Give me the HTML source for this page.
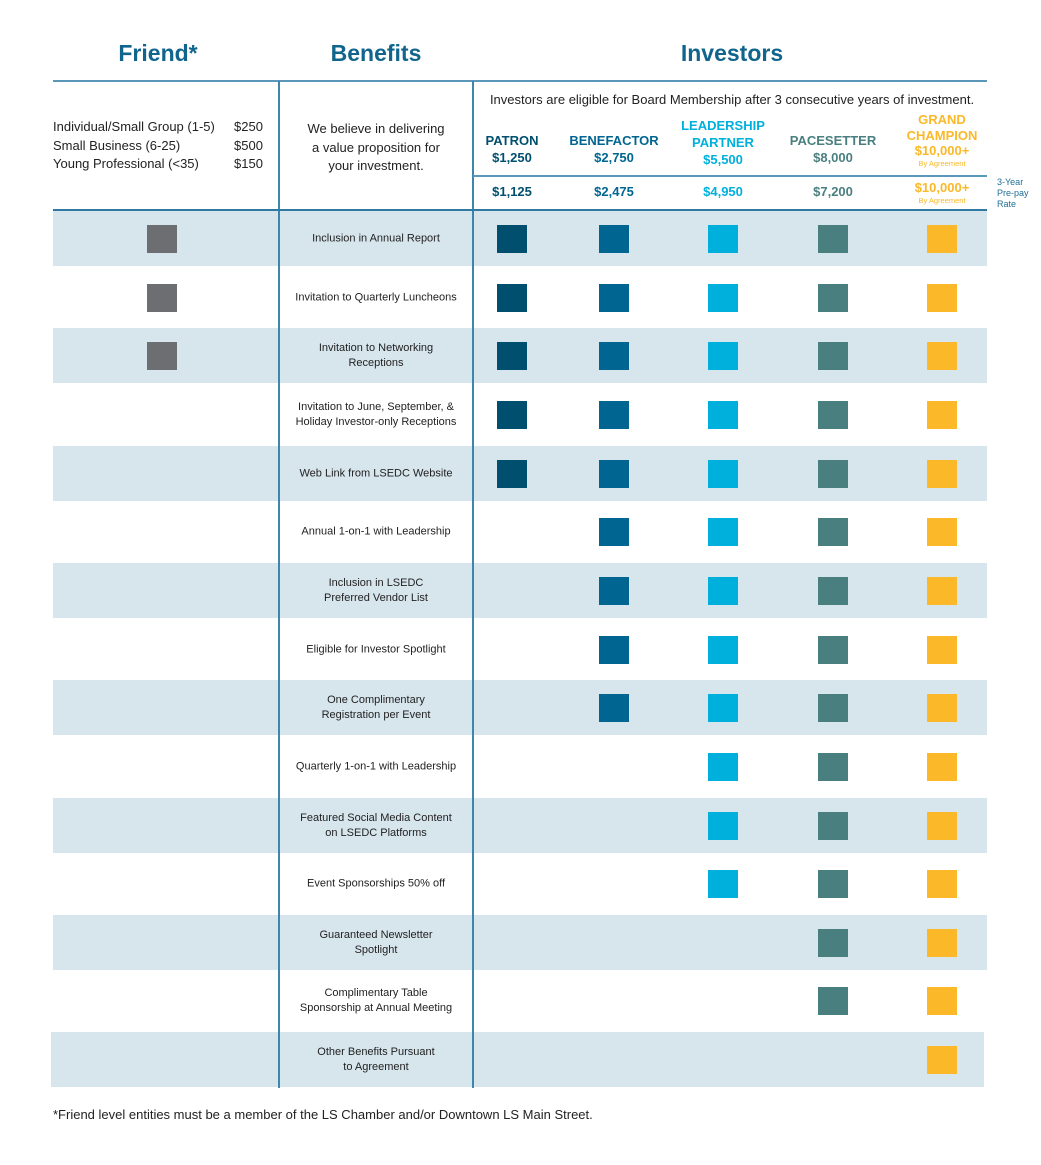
<!DOCTYPE html>
<html><head><meta charset="utf-8">
<style>
html,body{margin:0;padding:0;background:#fff;}
body{width:1041px;height:1165px;position:relative;overflow:hidden;font-family:"Liberation Sans",Arial,sans-serif;color:#222;}
.a{position:absolute;}
.t{position:absolute;white-space:nowrap;}
.c{transform:translateX(-50%);text-align:center;}
.h{font-weight:bold;font-size:23px;color:#11658d;}
.tn{font-weight:bold;font-size:13px;line-height:17px;}
.sm{font-size:7.5px;font-weight:normal;display:block;line-height:10px;}
.bt{font-size:11px;line-height:15px;text-align:center;transform:translate(-50%,-50%);white-space:nowrap;}
</style></head><body>
<div class="t c h" style="left:158px;top:40px;">Friend*</div>
<div class="t c h" style="left:376px;top:40px;">Benefits</div>
<div class="t c h" style="left:732px;top:40px;">Investors</div>
<div class="a" style="left:53px;top:80px;width:934px;height:2px;background:#5a97b8;"></div>
<div id="rows"></div>
<div class="a" style="left:278px;top:81px;width:1.5px;height:1007px;background:#3f86ad;"></div>
<div class="a" style="left:472px;top:81px;width:1.5px;height:1007px;background:#3f86ad;"></div>
<div class="a" style="left:473px;top:175px;width:514px;height:1.5px;background:#5a97b8;"></div>
<div class="a" style="left:53px;top:209px;width:934px;height:2px;background:#2f79a3;"></div>
<div class="t" style="left:53px;top:118px;font-size:13px;line-height:18.5px;">Individual/Small Group (1-5)<br>Small Business (6-25)<br>Young Professional (&lt;35)</div>
<div class="t" style="left:234px;top:118px;font-size:13px;line-height:18.5px;">$250<br>$500<br>$150</div>
<div class="t c" style="left:376px;top:120px;font-size:13px;line-height:18.5px;">We believe in delivering<br>a value proposition for<br>your investment.</div>
<div class="t c" style="left:732px;top:92px;font-size:13px;">Investors are eligible for Board Membership after 3 consecutive years of investment.</div>
<div class="t" style="left:997px;top:177px;font-size:9px;line-height:11px;color:#1f6f96;">3-Year<br>Pre-pay<br>Rate</div>
<div class="t" style="left:53px;top:1107px;font-size:13px;">*Friend level entities must be a member of the LS Chamber and/or Downtown LS Main Street.</div>
<script>
const benefits=["Inclusion in Annual Report","Invitation to Quarterly Luncheons","Invitation to Networking<br>Receptions","Invitation to June, September, &amp;<br>Holiday Investor-only Receptions","Web Link from LSEDC Website","Annual 1-on-1 with Leadership","Inclusion in LSEDC<br>Preferred Vendor List","Eligible for Investor Spotlight","One Complimentary<br>Registration per Event","Quarterly 1-on-1 with Leadership","Featured Social Media Content<br>on LSEDC Platforms","Event Sponsorships 50% off","Guaranteed Newsletter<br>Spotlight","Complimentary Table<br>Sponsorship at Annual Meeting","Other Benefits Pursuant<br>to Agreement"];
const friendIncluded=[1,1,1,0,0,0,0,0,0,0,0,0,0,0,0];
const minTier=[0,0,0,0,0,1,1,1,1,2,2,2,3,3,4];
const tierNames=["PATRON","BENEFACTOR","LEADERSHIP<br>PARTNER","PACESETTER","GRAND<br>CHAMPION"];
const tierPrice=["$1,250","$2,750","$5,500","$8,000","$10,000+"];
const tierPrepay=["$1,125","$2,475","$4,950","$7,200","$10,000+"];
const tierColors=["#004f6e","#006591","#00b0dc","#4a7f80","#fbb829"];
const tierX=[512,614,723,833,942];
const root=document.getElementById('rows');
const pitch=58.65, y0=239;
benefits.forEach((b,i)=>{
  const cy=y0+i*pitch;
  if(i%2===0){
    const bg=document.createElement('div');
    bg.className='a';
    
    
    bg.style.cssText=`left:${i===14?51:53}px;top:${cy-28}px;width:${i===14?933:934}px;height:55px;background:#d7e5ed;`;
    root.appendChild(bg);
  }
  const t=document.createElement('div');
  t.className='a bt';
  
  
  t.style.left='376px';t.style.top=cy+'px';
  t.innerHTML=b;root.appendChild(t);
  if(friendIncluded[i]){
    const s=document.createElement('div');
    s.className='a';
    
    
    s.style.cssText=`left:147px;top:${cy-14}px;width:30px;height:28px;background:#6d6e71;`;
    root.appendChild(s);
  }
  tierX.forEach((x,k)=>{
    if(k>=minTier[i]){
      const s=document.createElement('div');
      s.className='a';
      
      
      s.style.cssText=`left:${x-15}px;top:${cy-14}px;width:30px;height:28px;background:${tierColors[k]};`;
      root.appendChild(s);
    }
  });
});
tierNames.forEach((n,k)=>{
  const two=n.includes('<br>');
  const d=document.createElement('div');
  d.className='t c tn';
  
  
  d.style.cssText=`left:${tierX[k]}px;top:${two?(k===4?112:117):132}px;color:${tierColors[k]};`+(k===4?'line-height:15.5px;':'');
  d.innerHTML=n+'<br>'+tierPrice[k]+(k===4?'<span class="sm">By Agreement</span>':'');
  root.appendChild(d);
  const p=document.createElement('div');
  p.className='t c tn';
  
  
  p.style.cssText=`left:${tierX[k]}px;top:${k===4?179:183}px;color:${tierColors[k]};`;
  p.innerHTML=tierPrepay[k]+(k===4?'<span class="sm">By Agreement</span>':'');
  root.appendChild(p);
});
</script>
</body></html>
